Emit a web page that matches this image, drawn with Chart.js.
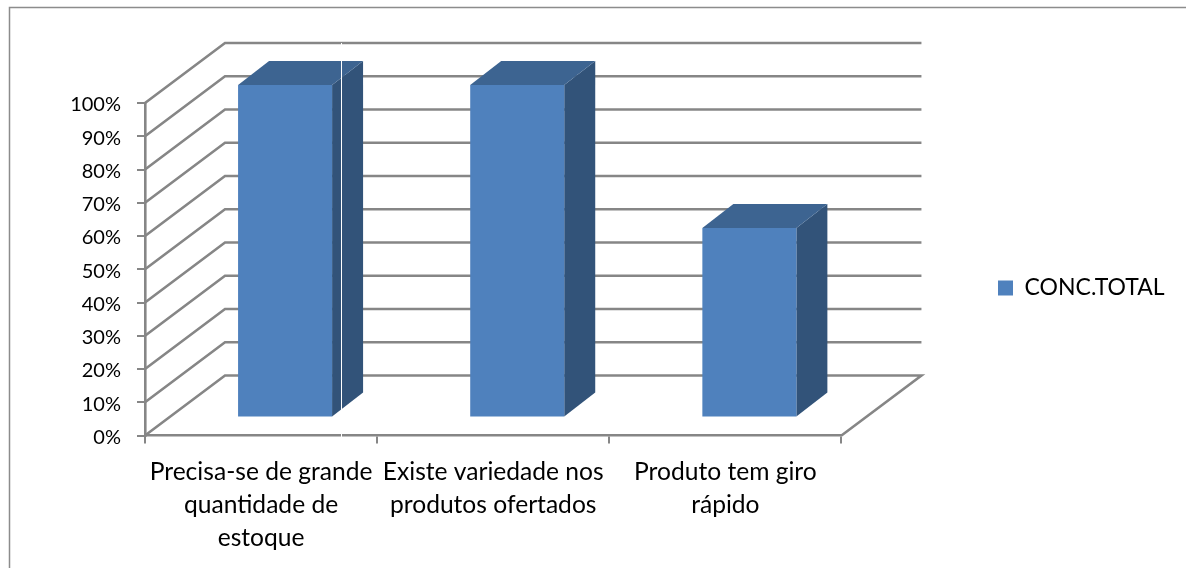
<!DOCTYPE html>
<html lang="pt">
<head>
  <meta charset="UTF-8">
  <title>CONC.TOTAL</title>
  <script src="https://cdn.jsdelivr.net/npm/chart.js"></script>
  <style>
    html, body { margin: 0; background: #fff; }
    canvas { display: block; }
  </style>
</head>
<body>
  <canvas id="chart" width="1186" height="568"></canvas>
  <script>
    const categories = [
      ["Precisa-se de grande", "quantidade de", "estoque"],
      ["Existe variedade nos", "produtos ofertados"],
      ["Produto tem giro", "rápido"]
    ];
    const seriesName = "CONC.TOTAL";
    const concTotal = [100, 100, 57];
    const yTicks = [0, 10, 20, 30, 40, 50, 60, 70, 80, 90, 100];

    const GRID = "#868686";
    const FRONT = "#4f81bd", TOP = "#3d6491", SIDE = "#325379";
    // wall depth and how far the bars sit inside it
    const DEPTH_X = 80, DEPTH_Y = 60;
    const BAR_X = 24, BAR_Y = 18, BAR_DX = 31, BAR_DY = 24;

    const frame3d = {
      id: "frame3d",
      afterLayout(chart) {
        const l = chart.legend;
        l.left = 992; l.right = 1170; l.top = 272; l.bottom = 304;
        // Lato sits a bit high compared to the original font
        chart.scales.y.getLabelItems().forEach(i => { i.textOffset += 2; });
      },
      beforeDraw(chart) {
        const c = chart.ctx;
        c.save();
        c.strokeStyle = "#8c8c8c";
        c.lineWidth = 1.5;
        c.beginPath();
        c.moveTo(9.5, 568);
        c.lineTo(9.5, 7.5);
        c.lineTo(1186, 7.5);
        c.stroke();
        c.restore();
      },
      beforeDatasetsDraw(chart) {
        const c = chart.ctx, y = chart.scales.y, a = chart.chartArea;
        c.save();
        c.strokeStyle = GRID;
        c.lineWidth = 2.6;
        yTicks.forEach(t => {
          const py = y.getPixelForValue(t);
          c.beginPath();
          c.moveTo(a.left, py);
          c.lineTo(a.left + DEPTH_X, py - DEPTH_Y);
          c.lineTo(a.right + DEPTH_X, py - DEPTH_Y);
          if (t === 0) c.lineTo(a.right, py);
          c.stroke();
        });
        c.restore();
      },
      beforeDatasetDraw(chart) {
        const c = chart.ctx;
        c.save();
        // side and top faces first, front face is the library's own bar
        chart.getDatasetMeta(0).data.forEach(b => {
          const l = b.x - b.width / 2 + BAR_X, r = b.x + b.width / 2 + BAR_X;
          const t = b.y - BAR_Y, bot = b.base - BAR_Y;
          c.fillStyle = SIDE;
          c.beginPath();
          c.moveTo(r, t); c.lineTo(r + BAR_DX, t - BAR_DY);
          c.lineTo(r + BAR_DX, bot - BAR_DY); c.lineTo(r, bot);
          c.closePath(); c.fill();
          c.fillStyle = TOP;
          c.beginPath();
          c.moveTo(l, t); c.lineTo(l + BAR_DX, t - BAR_DY);
          c.lineTo(r + BAR_DX, t - BAR_DY); c.lineTo(r, t);
          c.closePath(); c.fill();
        });
        c.translate(BAR_X, -BAR_Y);
      },
      afterDatasetDraw(chart) {
        chart.ctx.restore();
      },
      afterDraw(chart) {
        // thin white seam that runs through the first bar in the picture
        const c = chart.ctx, a = chart.chartArea;
        c.save();
        c.fillStyle = "#fff";
        c.fillRect(341, a.top - DEPTH_Y, 1, a.bottom - a.top + DEPTH_Y + 2);
        c.restore();
      }
    };

    new Chart(document.getElementById("chart"), {
      type: "bar",
      data: {
        labels: categories,
        datasets: [{
          label: seriesName,
          data: concTotal,
          backgroundColor: FRONT,
          barPercentage: 0.405,
          categoryPercentage: 1
        }]
      },
      options: {
        responsive: false,
        animation: false,
        layout: { padding: { left: 65, right: 162, top: 103, bottom: 0 } },
        font: { family: "Lato" },
        plugins: {
          tooltip: { enabled: false },
          legend: {
            position: "right",
            labels: {
              boxWidth: 15, boxHeight: 15, padding: 6,
              color: "#000",
              font: { family: "Lato", size: 23 }
            }
          }
        },
        scales: {
          x: {
            afterFit(s) { s.height = 132.5; },
            grid: { drawOnChartArea: false, color: GRID, lineWidth: 2, tickLength: 8 },
            border: { color: GRID, width: 2.6 },
            ticks: {
              color: "#000", maxRotation: 0, autoSkip: false, padding: 12,
              font: { family: "Lato", size: 24.6, lineHeight: 1.34 }
            }
          },
          y: {
            min: 0, max: 100,
            afterFit(s) { s.width = 80; },
            afterBuildTicks(s) { s.ticks = yTicks.map(v => ({ value: v })); },
            grid: { drawOnChartArea: false, color: GRID, lineWidth: 2, tickLength: 8 },
            border: { color: GRID, width: 2.6 },
            ticks: {
              color: "#000", padding: 16,
              font: { family: "Lato", size: 20 },
              callback: v => v + "%"
            }
          }
        }
      },
      plugins: [frame3d]
    });
  </script>
</body>
</html>
